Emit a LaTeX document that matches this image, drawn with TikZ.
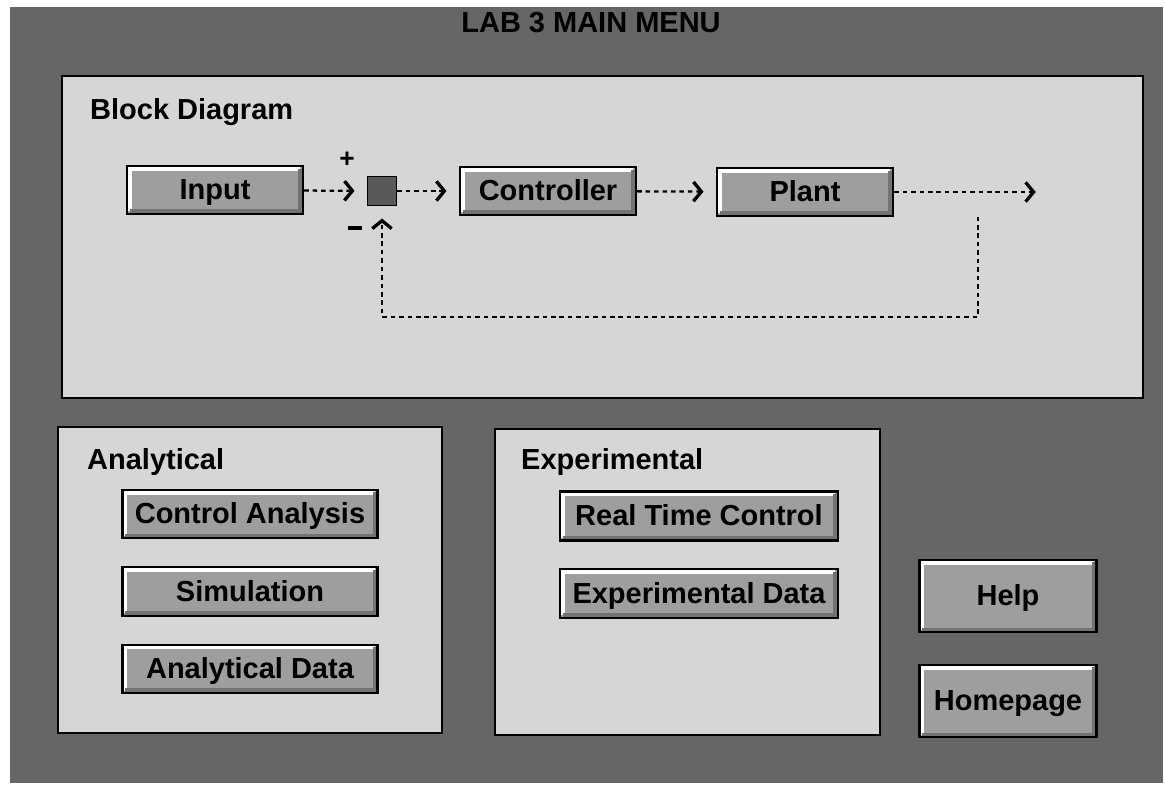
\documentclass[tikz,border=0pt]{standalone}
\usepackage{fontspec}
\setmainfont{Liberation Sans}
\usetikzlibrary{positioning, arrows.meta}
\definecolor{bgdark}{gray}{0.40}
\definecolor{paneltone}{gray}{0.84}
\definecolor{btntone}{gray}{0.62}
\definecolor{sumtone}{gray}{0.35}
\tikzset{
    panel/.style={draw=black, line width=1.6pt, fill=paneltone}, % light boxes
    paneltitle/.style={anchor=west, font=\fontsize{16.5}{18}\selectfont\bfseries},
    button/.style={draw=black, line width=1.4pt, fill=btntone, inner sep=0pt,
        text height=12pt, text depth=1pt,
        font=\fontsize{16.5}{18}\selectfont\bfseries,
        path picture={
            \draw[white, line width=2.4pt]
                ([shift={(1.5pt,1.5pt)}]path picture bounding box.south west)
                |- ([shift={(-1.5pt,-1.5pt)}]path picture bounding box.north east);
            \draw[black!55, line width=2.4pt]
                ([shift={(1.5pt,1.5pt)}]path picture bounding box.south west)
                -| ([shift={(-1.5pt,-1.5pt)}]path picture bounding box.north east);
        }}, % bevelled push button
    smallbtn/.style={button, minimum width=3.52cm, minimum height=0.96cm},
    anabtn/.style={button, minimum width=5.1cm, minimum height=0.97cm},
    expbtn/.style={button, minimum width=5.56cm, minimum height=0.98cm},
    bigbtn/.style={button, minimum width=3.54cm, minimum height=1.45cm},
    signal/.style={line width=1.3pt, dash pattern=on 2.6pt off 2.2pt,
        -{Straight Barb[length=4.5pt, width=11pt, line width=1.9pt]}, shorten >=7pt},
    sign/.style={font=\fontsize{15}{15}\selectfont\bfseries, inner sep=0pt},
}
\begin{document}
\begin{tikzpicture}[x=0.02cm, y=-0.02cm, node distance=1.55cm, on grid]

    % background
    \fill[white] (0,0) rectangle (1165,785);
    \fill[bgdark] (10,7) rectangle (1163,783);
    \node[font=\fontsize{16.5}{18}\selectfont\bfseries] (title) at (591,23) {LAB 3 MAIN MENU};

    % pannelli
    \draw[panel] (62,76) rectangle (1143,398);
    \draw[panel] (58,427) rectangle (442,733);
    \draw[panel] (495,429) rectangle (880,735);
    \node[paneltitle] (blocklbl) at (84,112) {Block Diagram};
    \node[paneltitle] (analbl) at (81,462) {Analytical};
    \node[paneltitle] (explbl) at (515,462) {Experimental};

    % schema a blocchi
    \node[smallbtn] (input) at (215,190) {Input};
    \node[draw=black, fill=sumtone, line width=0.8pt, minimum size=0.58cm] (sum) at (382,191) {};
    \node[smallbtn] (controller) at (548,191) {Controller};
    \node[smallbtn] (plant) at (805,192) {Plant};
    \coordinate (output) at (1048,192);
    \coordinate (branch) at (978,192);
    \coordinate (fbbot) at (978,317);
    \node[sign] (plus) at (347,160) {+};
    \node[sign] (minus) at (355,228) {\rule{8pt}{2pt}};

    % collegamenti
    \draw[signal] (input) -- (sum);
    \draw[signal] (sum) -- (controller);
    \draw[signal] (controller) -- (plant);
    \draw[signal] (plant) -- (output);
    \draw[signal] ([yshift=-14pt]branch) -- (fbbot) -| (sum.south);

    % pulsanti analitici
    \node[anabtn] (ctrlan) at (250,514) {Control Analysis};
    \node[anabtn, below=of ctrlan] (sim) {Simulation};
    \node[anabtn, below=of sim] (anadata) {Analytical Data};

    % pulsanti sperimentali
    \node[expbtn] (rtc) at (699,516) {Real Time Control};
    \node[expbtn, below=of rtc] (expdata) {Experimental Data};

    % aiuto
    \node[bigbtn] (help) at (1008,596) {Help};
    \node[bigbtn] (home) at (1008,701) {Homepage};

\end{tikzpicture}
\end{document}
